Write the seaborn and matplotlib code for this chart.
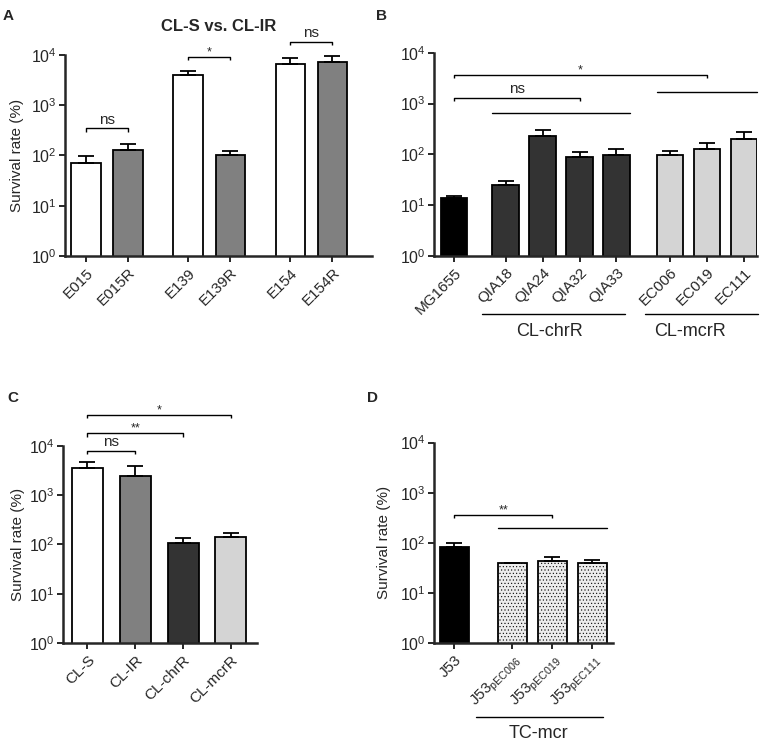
import numpy as np
import pandas as pd
import matplotlib
matplotlib.use("Agg")
import matplotlib.pyplot as plt
import seaborn as sns
from matplotlib.ticker import LogLocator, NullLocator

# ---------------- data ----------------
A_strains = ["E015", "E015R", "E139", "E139R", "E154", "E154R"]
A_mean = [72, 130, 3950, 100, 6500, 7350]
A_upper = [98, 167, 4800, 124, 8600, 9600]
A_type = ["CL-S", "CL-IR", "CL-S", "CL-IR", "CL-S", "CL-IR"]

B_strains = ["MG1655", "QIA18", "QIA24", "QIA32", "QIA33", "EC006", "EC019", "EC111"]
B_mean = [14, 25, 230, 89, 96, 96, 127, 198]
B_upper = [15.4, 30, 300, 113, 127, 118, 170, 270]
B_type = ["ref", "CL-chrR", "CL-chrR", "CL-chrR", "CL-chrR", "CL-mcrR", "CL-mcrR", "CL-mcrR"]

C_groups = ["CL-S", "CL-IR", "CL-chrR", "CL-mcrR"]
C_mean = [3480, 2440, 109, 140]
C_upper = [4700, 3870, 133, 169]

D_strains = ["J53", "J53$_{\\mathregular{pEC006}}$", "J53$_{\\mathregular{pEC019}}$",
             "J53$_{\\mathregular{pEC111}}$"]
D_mean = [83, 38.7, 43, 39]
D_upper = [100, 40, 52.5, 45]
D_type = ["ref", "TC-mcr", "TC-mcr", "TC-mcr"]

# layout positions (styling)
A_pos = [0, 1, 2.43, 3.43, 4.86, 5.86]
B_pos = [0, 1.4, 2.4, 3.4, 4.4, 5.85, 6.85, 7.85]
C_pos = [0, 1, 2, 3]
D_pos = [0, 1.45, 2.45, 3.45]

palette = {"CL-S": "#ffffff", "CL-IR": "#808080", "CL-chrR": "#333333",
           "CL-mcrR": "#d4d4d4", "ref": "#000000", "TC-mcr": "#ececec"}

sns.set_style("ticks")
plt.rcParams["font.family"] = ["Liberation Sans", "DejaVu Sans"]
plt.rcParams["mathtext.fontset"] = "custom"
plt.rcParams["mathtext.rm"] = "Liberation Sans"
plt.rcParams["hatch.linewidth"] = 0.4
plt.rcParams["hatch.color"] = "#555555"

FS = 11

fig = plt.figure(figsize=(7.7, 7.5), dpi=100)
axA = fig.add_axes([0.0844, 0.6587, 0.3987, 0.268])
axB = fig.add_axes([0.564, 0.6587, 0.419, 0.271])
axC = fig.add_axes([0.0822, 0.1423, 0.2512, 0.2635])
axD = fig.add_axes([0.564, 0.1431, 0.2317, 0.2667])


def draw(ax, pos, mean, upper, types, labels, width, xlim):
    df = pd.DataFrame({"x": pos, "y": mean, "t": types})
    ax.set_yscale("log")
    sns.barplot(data=df, x="x", y="y", hue="t", palette=palette, native_scale=True,
                dodge=False, width=width, edgecolor="black", linewidth=1.3,
                errorbar=None, legend=False, ax=ax)
    err = np.array(upper) - np.array(mean)
    ax.errorbar(pos, mean, yerr=[np.zeros(len(mean)), err], fmt="none",
                ecolor="black", elinewidth=1.3, capsize=5.5, capthick=1.3, zorder=1)
    ax.set_ylim(1, 1e4)
    ax.set_xlim(*xlim)
    ax.yaxis.set_major_locator(LogLocator(base=10, numticks=10))
    ax.yaxis.set_minor_locator(NullLocator())
    ax.set_xticks(pos)
    ax.set_xticklabels(labels, rotation=45, ha="right", rotation_mode="anchor",
                       fontsize=FS)
    ax.tick_params(axis="y", labelsize=11.5, direction="out", length=4, width=1.4, pad=2)
    ax.tick_params(axis="x", direction="out", length=4, width=1.4, pad=3)
    ax.set_xlabel("")
    ax.set_ylabel("")
    for s in ["top", "right"]:
        ax.spines[s].set_visible(False)
    for s in ["left", "bottom"]:
        ax.spines[s].set_linewidth(1.8)


def bracket(ax, x1, x2, y, text=None, fs=FS, tick=True, off=1.0):
    f = 10 ** -0.07 if tick else 1
    ax.plot([x1, x1, x2, x2], [y * f, y, y, y * f], color="black", lw=1.0,
            clip_on=False, solid_capstyle="butt")
    if text:
        ax.annotate(text, ((x1 + x2) / 2, y), xytext=(0, off), textcoords="offset points",
                    ha="center", va="bottom", fontsize=fs, annotation_clip=False)


def hline(ax, x1, x2, y):
    ax.plot([x1, x2], [y, y], color="black", lw=1.0, clip_on=False)


# ---- Panel A ----
draw(axA, A_pos, A_mean, A_upper, A_type, A_strains, 0.7, (-0.5, 6.8))
axA.set_ylabel("Survival rate (%)", fontsize=FS)
axA.yaxis.set_label_coords(-0.135, 0.5)
axA.set_title("CL-S vs. CL-IR", fontsize=12, fontweight="bold", pad=17)
bracket(axA, A_pos[0], A_pos[1], 10 ** 2.54, "ns")
bracket(axA, A_pos[2], A_pos[3], 10 ** 3.966, "*", fs=9, off=-1)
bracket(axA, A_pos[4], A_pos[5], 10 ** 4.265, "ns")

# ---- Panel B ----
draw(axB, B_pos, B_mean, B_upper, B_type, B_strains, 0.72, (-0.53, 8.2))
bracket(axB, B_pos[0], B_pos[6], 10 ** 3.563, "*", fs=9, off=-1)
bracket(axB, B_pos[0], B_pos[3], 10 ** 3.116, "ns")
hline(axB, B_pos[5] - 0.36, B_pos[7] + 0.36, 10 ** 3.234)
hline(axB, B_pos[1] - 0.36, B_pos[4] + 0.36, 10 ** 2.82)
tB = axB.get_xaxis_transform()
axB.plot([0.76, 4.62], [-0.287, -0.287], color="black", lw=1.0, transform=tB, clip_on=False)
axB.plot([5.16, 8.22], [-0.287, -0.287], color="black", lw=1.0, transform=tB, clip_on=False)
axB.text(2.6, -0.33, "CL-chrR", transform=tB, ha="center", va="top", fontsize=13)
axB.text(6.4, -0.33, "CL-mcrR", transform=tB, ha="center", va="top", fontsize=13)

# ---- Panel C ----
draw(axC, C_pos, C_mean, C_upper, C_groups, C_groups, 0.65, (-0.506, 3.54))
axC.set_ylabel("Survival rate (%)", fontsize=FS)
axC.yaxis.set_label_coords(-0.2, 0.5)
bracket(axC, C_pos[0], C_pos[3], 10 ** 4.62, "*", fs=9, off=-1)
bracket(axC, C_pos[0], C_pos[2], 10 ** 4.25, "**", fs=9, off=-1)
bracket(axC, C_pos[0], C_pos[1], 10 ** 3.90, "ns")

# ---- Panel D ----
draw(axD, D_pos, D_mean, D_upper, D_type, D_strains, 0.72, (-0.505, 3.955))
for p in axD.patches[1:4]:
    p.set_hatch(".....")
axD.set_ylabel("Survival rate (%)", fontsize=FS)
axD.yaxis.set_label_coords(-0.24, 0.5)
bracket(axD, D_pos[0], D_pos[2], 10 ** 2.554, "**", fs=9, off=-1)
hline(axD, D_pos[1] - 0.36, D_pos[3] + 0.36, 10 ** 2.288)
tD = axD.get_xaxis_transform()
axD.plot([0.53, 3.72], [-0.37, -0.37], color="black", lw=1.0, transform=tD, clip_on=False)
axD.text(2.1, -0.41, "TC-mcr", transform=tD, ha="center", va="top", fontsize=13)

# panel letters
for lbl, x, y in [("A", 0.004, 0.988), ("B", 0.488, 0.988), ("C", 0.01, 0.478), ("D", 0.476, 0.478)]:
    fig.text(x, y, lbl, fontsize=11, fontweight="bold", ha="left", va="top")

fig.savefig("out.png", dpi=100, facecolor="white")
